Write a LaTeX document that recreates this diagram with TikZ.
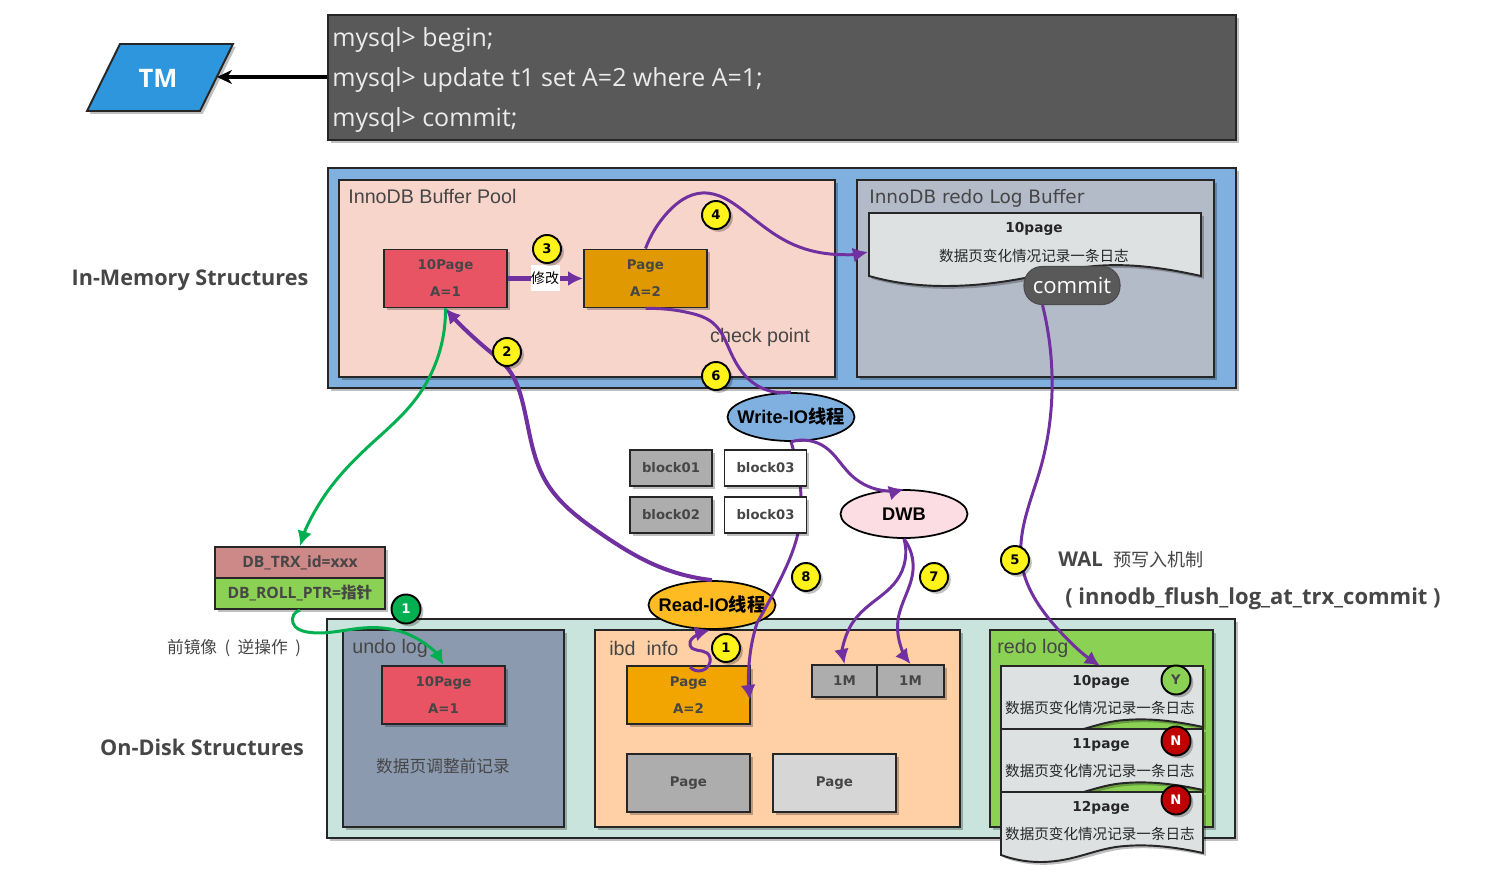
\documentclass[tikz,border=0pt]{standalone}
\usepackage{fontspec}
\usepackage{xcolor}
\usepackage{tikz}
\usetikzlibrary{arrows.meta, hobby, positioning, calc, shapes, shadows}
\setmainfont{Liberation Sans}
\newfontfamily\cjk{Noto Sans CJK SC}
\newfontfamily\dejavu{DejaVu Sans}
\newfontfamily\opensans{Open Sans}
\newcommand{\cn}[1]{{\cjk #1}}
\definecolor{flowpurple}{RGB}{112,48,160}
\definecolor{flowgreen}{RGB}{0,176,80}
\definecolor{notegray}{RGB}{70,70,70}
\definecolor{termgray}{RGB}{89,89,89}
\definecolor{tmblue}{RGB}{46,150,220}
\definecolor{memblue}{RGB}{127,176,224}
\definecolor{poolpink}{RGB}{248,213,203}
\definecolor{bufgray}{RGB}{179,186,200}
\definecolor{diskgreen}{RGB}{201,228,220}
\definecolor{undoblue}{RGB}{140,154,176}
\definecolor{ibdorange}{RGB}{255,208,166}
\definecolor{redogreen}{RGB}{138,209,84}
\definecolor{pagered}{RGB}{233,84,100}
\definecolor{pageamber}{RGB}{224,153,0}
\definecolor{pageorange}{RGB}{242,165,0}
\definecolor{blockgray}{RGB}{173,173,173}
\definecolor{lightgray}{RGB}{214,214,214}
\definecolor{docgray}{RGB}{222,225,226}
\definecolor{rowred}{RGB}{205,136,136}
\definecolor{dwbpink}{RGB}{252,221,228}
\definecolor{readamber}{RGB}{255,187,34}
\tikzset{
    softshadow/.style={drop shadow={shadow xshift=1.6pt, shadow yshift=-1.6pt, opacity=0.25, fill=black}},
    framebox/.style={draw=black!85, line width=1.1pt, softshadow},
    regionlabel/.style={anchor=west, text=notegray, inner sep=0pt, font=\fontsize{11.2}{13}\selectfont},
    pagebox/.style={framebox, inner sep=0pt, minimum width=2.46cm, minimum height=1.16cm, align=center, text=notegray, font=\dejavu\bfseries\fontsize{7.6}{15.4}\selectfont},
    blockbox/.style={framebox, inner sep=0pt, minimum width=1.64cm, minimum height=0.72cm, text=notegray, font=\dejavu\bfseries\fontsize{7.5}{10}\selectfont},
    megbox/.style={framebox, fill=blockgray, inner sep=0pt, minimum height=0.64cm, text=notegray, font=\dejavu\bfseries\fontsize{7.6}{10}\selectfont},
    rowbox/.style={framebox, inner sep=0pt, minimum width=3.4cm, minimum height=0.62cm, text=notegray, font=\opensans\bfseries\fontsize{8.9}{10}\selectfont},
    threadnode/.style={ellipse, draw=black, line width=1pt, inner xsep=-0.4cm, inner ysep=0pt, minimum width=2.54cm, minimum height=0.96cm, font=\bfseries\fontsize{10.4}{12}\selectfont},
    stepdot/.style={circle, draw=black, line width=1.1pt, fill=yellow!90!white, inner sep=0pt, minimum size=0.56cm, softshadow, font=\dejavu\bfseries\fontsize{7.5}{9}\selectfont},
    statedot/.style={circle, draw=black, line width=1.1pt, inner sep=0pt, minimum size=0.58cm, softshadow, font=\dejavu\bfseries\fontsize{7.5}{9}\selectfont},
    sidelabel/.style={text=notegray, inner sep=0pt, font=\opensans\bfseries\fontsize{12.3}{15}\selectfont},
    doctitle/.style={inner sep=0pt, text=black!85, font=\dejavu\bfseries\fontsize{7.8}{10}\selectfont},
    doctext/.style={inner sep=0pt, text=black!85, font=\cjk\fontsize{8.3}{10}\selectfont},
    termline/.style={anchor=west, inner sep=0pt, text=white!92!black, font=\opensans\fontsize{14.2}{17}\selectfont},
    purpleflow/.style={draw=flowpurple, line width=1.7pt},
    greenflow/.style={draw=flowgreen, line width=1.7pt},
    bighead/.style={-{Latex[length=0.3cm, width=0.3cm]}}
}
\begin{document}
\begin{tikzpicture}[x=0.02cm, y=-0.02cm]
    \useasboundingbox (0,0) rectangle (1495,875);

    % Terminale
    \node[framebox, fill=termgray, minimum width=18.16cm, minimum height=2.5cm] (term) at (782,77.5) {};
    \node[termline] (lineA) at (332,40) {mysql> begin;};
    \node[termline] (lineB) at (332,80) {mysql> update t1 set A=2 where A=1;};
    \node[termline] (lineC) at (332,120) {mysql> commit;};

    % TM
    \draw[framebox, fill=tmblue] (87,111) -- (120,44) -- (233,44) -- (200,111) -- cycle;
    \node[text=white, inner sep=0pt, font=\opensans\bfseries\fontsize{14.5}{17}\selectfont] (tm) at (158,78) {TM};
    \coordinate (tmEdge) at (217,77);
    \draw[line width=1.9pt, -{Stealth[length=0.3cm, width=0.28cm]}] (term.west |- tmEdge) -- (tmEdge);

    % Strutture in memoria
    \node[sidelabel] (memLabel) at (190,280) {In-Memory Structures};
    \node[framebox, fill=memblue, minimum width=18.16cm, minimum height=4.4cm] (memory) at (782,278) {};
    \node[framebox, fill=poolpink, minimum width=9.92cm, minimum height=3.94cm] (pool) at (587,278.5) {};
    \node[framebox, fill=bufgray, minimum width=7.14cm, minimum height=3.94cm] (logbuf) at (1035.5,278.5) {};
    \node[regionlabel] (poolLabel) at (348,196) {InnoDB Buffer Pool};
    \node[regionlabel, font=\dejavu\fontsize{10.5}{13}\selectfont] (bufLabel) at (869,198) {InnoDB redo Log Buffer};
    \node[pagebox, fill=pagered] (oldPage) at (445.5,278.5) {10Page\\A=1};
    \node[pagebox, fill=pageamber] (newPage) at (645.5,278.5) {Page\\A=2};
    \node[regionlabel, anchor=center] (checkLabel) at (760,337) {check point};

    % Log buffer
    \draw[framebox, fill=docgray] (869,213) -- (1201,213) -- (1201,276) .. controls (1165,268) and (1130,263) .. (1095,266) .. controls (1050,270) and (1010,286) .. (945,286) .. controls (915,286) and (890,282) .. (869,276) -- cycle;
    \coordinate (bufIn) at (868,252);
    \node[doctitle] (bufTitle) at (1034,229) {10page};
    \node[doctext] (bufText) at (1034,256) {数据页变化情况记录一条日志};
    \node[draw=black!70, line width=0.6pt, fill=termgray, rounded corners=0.36cm, minimum width=1.92cm, minimum height=0.76cm, inner sep=0pt, text=white, font=\opensans\fontsize{12.6}{15}\selectfont] (commit) at (1072,285.5) {commit};

    % Strutture su disco
    \node[sidelabel] (diskLabel) at (202,747) {On-Disk Structures};
    \node[framebox, fill=diskgreen, minimum width=18.16cm, minimum height=4.38cm] (disk) at (781,728.5) {};
    \node[framebox, fill=undoblue, minimum width=4.42cm, minimum height=3.94cm] (undo) at (453.5,728.5) {};
    \node[framebox, fill=ibdorange, minimum width=7.3cm, minimum height=3.94cm] (ibd) at (777.5,728.5) {};
    \node[framebox, fill=redogreen, minimum width=4.46cm, minimum height=3.94cm] (redo) at (1101.5,728.5) {};
    \node[regionlabel] (undoLabel) at (352,648) {undo log};
    \node[regionlabel] (ibdLabel) at (609,648) {ibd\ \ info};
    \node[regionlabel] (redoLabel) at (997,648) {redo log};
    \node[pagebox, fill=pagered] (undoPage) at (443.5,695) {10Page\\A=1};
    \node[text=notegray, inner sep=0pt, font=\cjk\fontsize{9.5}{11}\selectfont] (undoText) at (443,766) {数据页调整前记录};
    \node[pagebox, fill=pageorange] (ibdPage) at (688.5,695) {Page\\A=2};
    \node[pagebox, fill=blockgray] (grayPage) at (688.5,783) {Page};
    \node[pagebox, fill=lightgray] (lightPage) at (834.5,783) {Page};
    \node[megbox, minimum width=1.3cm] (megA) at (844.5,681) {1M};
    \node[megbox, minimum width=1.34cm] (megB) at (910.5,681) {1M};

    % Pagine del redo log
    \foreach \docname/\y/\lab in {docA/666/10page, docB/729/11page, docC/792/12page}{
        \begin{scope}[shift={(0,\y)}]
            \draw[framebox, fill=docgray] (1001,0) -- (1203,0) -- (1203,61) .. controls (1175,55) and (1150,52) .. (1125,54) .. controls (1095,56) and (1075,70) .. (1040,70) .. controls (1025,70) and (1012,67) .. (1001,63) -- cycle;
            \node[doctitle] (\docname Title) at (1101,15.5) {\lab};
            \node[doctext] (\docname Text) at (1100,42) {数据页变化情况记录一条日志};
        \end{scope}
    }
    \coordinate (redoIn) at (1100,666);
    \node[statedot, fill=redogreen, text=notegray] (stateA) at (1176,680) {Y};
    \node[statedot, fill=red!75!black, text=white] (stateB) at (1176,741) {N};
    \node[statedot, fill=red!75!black, text=white] (stateC) at (1176,800) {N};

    % Record con i campi nascosti
    \node[rowbox, fill=rowred] (trxRow) at (300,562.5) {DB\_TRX\_id=xxx};
    \node[rowbox, fill=redogreen] (rollRow) at (300,593.5) {DB\_ROLL\_PTR=\cn{指针}};
    \node[text=notegray, inner sep=0pt, font=\cjk\fontsize{9.5}{12}\selectfont] (imageLabel) at (234,648) {前镜像\ \ (\ \ 逆操作\ \ )};

    % Thread
    \node[threadnode, fill=memblue] (writeIO) at (791,417) {Write-IO\cn{线程}};
    \node[threadnode, fill=dwbpink] (dwb) at (904,514) {DWB};
    \node[threadnode, fill=readamber] (readIO) at (712,605) {Read-IO\cn{线程}};

    % Flussi
    \draw[purpleflow, line width=2.3pt, bighead] (oldPage.east) -- (newPage.west);
    \node[fill=white, inner sep=0pt, minimum width=0.58cm, minimum height=0.54cm, font=\cjk\fontsize{8}{10}\selectfont] (editLabel) at (545,278) {修改};
    \draw[purpleflow, bighead] (newPage.north) to[curve through={(668,212) (702,193) (745,212) (790,243) (830,254)}] (bufIn);
    \draw[purpleflow] (newPage.south) to[curve through={(690,313) (713,323) (731,353) (752,382)}] (writeIO.north);
    \draw[purpleflow, line width=2.3pt, bighead] (readIO.north) to[curve through={(655,565) (600,533) (545,480) (522,400) (509,370) (488,350)}] (oldPage.south);
    \draw[purpleflow, bighead] (writeIO.south) to[curve through={(825,447) (850,474) (880,490)}] (dwb.north);
    \coordinate (ibdEntry) at (757,623);
    \coordinate (ibdTip) at (750,700);
    \draw[purpleflow] (writeIO.south) to[curve through={(798,470) (801,510) (798,533) (780,580)}] (ibdEntry);
    \draw[purpleflow, bighead] (ibdEntry) to[curve through={(750,655)}] (ibdTip);
    \draw[purpleflow, bighead] (dwb.south) to[curve through={(897,580) (867,607) (850,627)}] (megA.north);
    \draw[purpleflow, bighead] (dwb.south) to[curve through={(913,570) (898,620) (899,640)}] (megB.north);
    \draw[purpleflow, bighead] (commit.south west)++(19,0) to[curve through={(1052,375) (1040,470) (1022,565) (1050,620)}] (redoIn);
    \coordinate (ibdOut) at (690,667);
    \coordinate (readIn) at (710,630);
    \draw[purpleflow, bighead] (ibdOut) to[curve through={(710,662) (707,653) (690,645) (697,635)}] (readIn);
    \draw[greenflow, bighead] (oldPage.south) to[curve through={(415,400) (370,445) (325,495)}] (trxRow.north);
    \draw[greenflow, bighead] (rollRow.south) to[curve through={(293,623) (307,632) (363,628) (410,635)}] (undoPage.north);

    % Blocchi davanti ai flussi
    \node[blockbox, fill=blockgray] (blockA) at (671,468) {block01};
    \node[blockbox, fill=white] (blockB) at (765.5,468) {block03};
    \node[blockbox, fill=blockgray] (blockC) at (671,515) {block02};
    \node[blockbox, fill=white] (blockD) at (765.5,515) {block03};

    % Numeri dei passi
    \foreach \num/\x/\y in {1/726/648, 2/507/352, 3/547/249, 4/716/215, 5/1015/560, 6/716/376, 7/934/577, 8/806/577}{
        \node[stepdot] (dot\num) at (\x,\y) {\num};
    }
    \node[statedot, fill=flowgreen, text=white] (dotGreen) at (406,609) {1};

    % Note
    \node[sidelabel, anchor=west, font=\opensans\bfseries\fontsize{11.6}{14}\selectfont] (walLabel) at (1058,560) {WAL\ \ \cn{\mdseries\fontsize{10.3}{14}\selectfont 预写入机制}};
    \node[sidelabel, anchor=west, font=\opensans\bfseries\fontsize{12.5}{14}\selectfont] (flushLabel) at (1065,599) {( innodb\_flush\_log\_at\_trx\_commit )};
\end{tikzpicture}
\end{document}
